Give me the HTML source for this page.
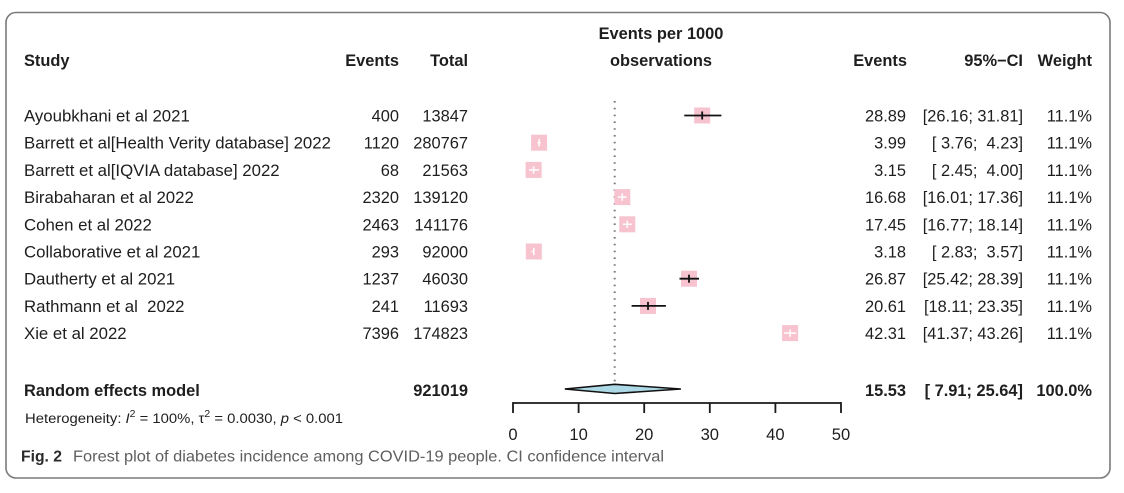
<!DOCTYPE html>
<html>
<head>
<meta charset="utf-8">
<style>
  html,body{margin:0;padding:0;background:#fff;}
  svg{display:block;}
  text{font-family:"Liberation Sans", Arial, sans-serif;fill:#1e1e1e;white-space:pre;}
  .b{font-weight:bold;}
  .r{font-size:16.4px;}
  .n{font-size:16.8px;}
</style>
</head>
<body>
<svg width="1124" height="493" viewBox="0 0 1124 493" xmlns="http://www.w3.org/2000/svg">
  <rect x="0" y="0" width="1124" height="493" fill="#fff"/>
  <!-- border -->
  <rect x="6" y="12.5" width="1104" height="465.5" rx="10" ry="10" fill="none" stroke="#7a7a7a" stroke-width="1.6"/>

  <!-- headers -->
  <text class="b r" x="661" y="39" text-anchor="middle">Events per 1000</text>
  <text class="b r" x="661" y="66" text-anchor="middle">observations</text>
  <text class="b r" x="24" y="66">Study</text>
  <text class="b r" x="399" y="66" text-anchor="end">Events</text>
  <text class="b r" x="468" y="66" text-anchor="end">Total</text>
  <text class="b r" x="907" y="66" text-anchor="end">Events</text>
  <text class="b r" x="1023" y="66" text-anchor="end">95%−CI</text>
  <text class="b r" x="1092" y="66" text-anchor="end">Weight</text>

  <!-- dotted reference line -->
  <line x1="614.7" y1="101" x2="614.7" y2="384" stroke="#777" stroke-width="2" stroke-dasharray="1.6 5.2"/>

  <!-- rows -->
  <g>
    <text class="n" x="24" y="121.5">Ayoubkhani et al 2021</text>
    <text class="r" x="399" y="121.5" text-anchor="end">400</text>
    <text class="r" x="468" y="121.5" text-anchor="end">13847</text>
    <text class="r" x="906" y="121.5" text-anchor="end">28.89</text>
    <text class="r" x="1023" y="121.5" text-anchor="end">[26.16; 31.81]</text>
    <text class="r" x="1092" y="121.5" text-anchor="end">11.1%</text>

    <text class="n" x="24" y="148.7">Barrett et al[Health Verity database] 2022</text>
    <text class="r" x="399" y="148.7" text-anchor="end">1120</text>
    <text class="r" x="468" y="148.7" text-anchor="end">280767</text>
    <text class="r" x="906" y="148.7" text-anchor="end">3.99</text>
    <text class="r" x="1023" y="148.7" text-anchor="end">[ 3.76;  4.23]</text>
    <text class="r" x="1092" y="148.7" text-anchor="end">11.1%</text>

    <text class="n" x="24" y="175.9">Barrett et al[IQVIA database] 2022</text>
    <text class="r" x="399" y="175.9" text-anchor="end">68</text>
    <text class="r" x="468" y="175.9" text-anchor="end">21563</text>
    <text class="r" x="906" y="175.9" text-anchor="end">3.15</text>
    <text class="r" x="1023" y="175.9" text-anchor="end">[ 2.45;  4.00]</text>
    <text class="r" x="1092" y="175.9" text-anchor="end">11.1%</text>

    <text class="n" x="24" y="203.1">Birabaharan et al 2022</text>
    <text class="r" x="399" y="203.1" text-anchor="end">2320</text>
    <text class="r" x="468" y="203.1" text-anchor="end">139120</text>
    <text class="r" x="906" y="203.1" text-anchor="end">16.68</text>
    <text class="r" x="1023" y="203.1" text-anchor="end">[16.01; 17.36]</text>
    <text class="r" x="1092" y="203.1" text-anchor="end">11.1%</text>

    <text class="n" x="24" y="230.3">Cohen et al 2022</text>
    <text class="r" x="399" y="230.3" text-anchor="end">2463</text>
    <text class="r" x="468" y="230.3" text-anchor="end">141176</text>
    <text class="r" x="906" y="230.3" text-anchor="end">17.45</text>
    <text class="r" x="1023" y="230.3" text-anchor="end">[16.77; 18.14]</text>
    <text class="r" x="1092" y="230.3" text-anchor="end">11.1%</text>

    <text class="n" x="24" y="257.5">Collaborative et al 2021</text>
    <text class="r" x="399" y="257.5" text-anchor="end">293</text>
    <text class="r" x="468" y="257.5" text-anchor="end">92000</text>
    <text class="r" x="906" y="257.5" text-anchor="end">3.18</text>
    <text class="r" x="1023" y="257.5" text-anchor="end">[ 2.83;  3.57]</text>
    <text class="r" x="1092" y="257.5" text-anchor="end">11.1%</text>

    <text class="n" x="24" y="284.7">Dautherty et al 2021</text>
    <text class="r" x="399" y="284.7" text-anchor="end">1237</text>
    <text class="r" x="468" y="284.7" text-anchor="end">46030</text>
    <text class="r" x="906" y="284.7" text-anchor="end">26.87</text>
    <text class="r" x="1023" y="284.7" text-anchor="end">[25.42; 28.39]</text>
    <text class="r" x="1092" y="284.7" text-anchor="end">11.1%</text>

    <text class="n" x="24" y="311.9">Rathmann et al  2022</text>
    <text class="r" x="399" y="311.9" text-anchor="end">241</text>
    <text class="r" x="468" y="311.9" text-anchor="end">11693</text>
    <text class="r" x="906" y="311.9" text-anchor="end">20.61</text>
    <text class="r" x="1023" y="311.9" text-anchor="end">[18.11; 23.35]</text>
    <text class="r" x="1092" y="311.9" text-anchor="end">11.1%</text>

    <text class="n" x="24" y="339.1">Xie et al 2022</text>
    <text class="r" x="399" y="339.1" text-anchor="end">7396</text>
    <text class="r" x="468" y="339.1" text-anchor="end">174823</text>
    <text class="r" x="906" y="339.1" text-anchor="end">42.31</text>
    <text class="r" x="1023" y="339.1" text-anchor="end">[41.37; 43.26]</text>
    <text class="r" x="1092" y="339.1" text-anchor="end">11.1%</text>
  </g>

  <!-- squares (size 16) -->
  <g fill="#f6c3cf">
    <rect x="694.2" y="107.5" width="16" height="16"/>
    <rect x="531.1" y="134.7" width="16" height="16"/>
    <rect x="525.6" y="161.9" width="16" height="16"/>
    <rect x="614.3" y="189.1" width="16" height="16"/>
    <rect x="619.3" y="216.3" width="16" height="16"/>
    <rect x="525.8" y="243.5" width="16" height="16"/>
    <rect x="681.0" y="270.7" width="16" height="16"/>
    <rect x="640.0" y="297.9" width="16" height="16"/>
    <rect x="782.1" y="325.1" width="16" height="16"/>
  </g>

  <!-- CI lines: black (extending outside square) -->
  <g stroke="#111" stroke-width="1.8">
    <line x1="684.3" y1="115.5" x2="721.4" y2="115.5"/>
    <line x1="702.2" y1="111.5" x2="702.2" y2="119.5"/>
    <line x1="679.5" y1="278.7" x2="699.0" y2="278.7"/>
    <line x1="689.0" y1="274.7" x2="689.0" y2="282.7"/>
    <line x1="631.6" y1="305.9" x2="665.9" y2="305.9"/>
    <line x1="648.0" y1="301.9" x2="648.0" y2="309.9"/>
  </g>
  <!-- CI lines: white (inside square) -->
  <g stroke="#fff" stroke-width="1.6" opacity="0.95">
    <line x1="537.6" y1="142.7" x2="540.7" y2="142.7"/>
    <line x1="539.1" y1="139" x2="539.1" y2="146.4"/>
    <line x1="529.0" y1="169.9" x2="539.2" y2="169.9"/>
    <line x1="533.6" y1="166.2" x2="533.6" y2="173.6"/>
    <line x1="617.9" y1="197.1" x2="626.7" y2="197.1"/>
    <line x1="622.3" y1="193.4" x2="622.3" y2="200.8"/>
    <line x1="622.8" y1="224.3" x2="631.8" y2="224.3"/>
    <line x1="627.3" y1="220.6" x2="627.3" y2="228"/>
    <line x1="531.5" y1="251.5" x2="534.1" y2="251.5"/>
    <line x1="533.8" y1="247.8" x2="533.8" y2="255.2"/>
    <line x1="784.0" y1="333.1" x2="796.3" y2="333.1"/>
    <line x1="790.1" y1="329.4" x2="790.1" y2="336.8"/>
  </g>

  <!-- random effects row -->
  <text class="b r" x="24" y="396">Random effects model</text>
  <text class="b r" x="468" y="396" text-anchor="end">921019</text>
  <text class="b r" x="906" y="396" text-anchor="end">15.53</text>
  <text class="b r" x="1023" y="396" text-anchor="end">[ 7.91; 25.64]</text>
  <text class="b r" x="1092" y="396" text-anchor="end">100.0%</text>
  <polygon points="564.8,389 614.7,384.3 680.9,389 614.7,393.5" fill="#add8e6" stroke="#111" stroke-width="1.6" stroke-linejoin="miter"/>

  <!-- heterogeneity -->
  <text x="25" y="423" style="font-size:14.2px;" textLength="318" lengthAdjust="spacingAndGlyphs">Heterogeneity: <tspan font-style="italic">I</tspan><tspan dy="-6" font-size="10">2</tspan><tspan dy="6"> = 100%, τ</tspan><tspan dy="-6" font-size="10">2</tspan><tspan dy="6"> = 0.0030, </tspan><tspan font-style="italic">p</tspan> &lt; 0.001</text>

  <!-- axis -->
  <g stroke="#1a1a1a" stroke-width="1.8" fill="none">
    <line x1="513" y1="403" x2="841" y2="403"/>
    <line x1="513" y1="402.1" x2="513" y2="413"/>
    <line x1="578.6" y1="403" x2="578.6" y2="413"/>
    <line x1="644.2" y1="403" x2="644.2" y2="413"/>
    <line x1="709.8" y1="403" x2="709.8" y2="413"/>
    <line x1="775.4" y1="403" x2="775.4" y2="413"/>
    <line x1="841" y1="402.1" x2="841" y2="413"/>
  </g>
  <g style="font-size:16.6px;" text-anchor="middle">
    <text x="513" y="440">0</text>
    <text x="578.6" y="440">10</text>
    <text x="644.2" y="440">20</text>
    <text x="709.8" y="440">30</text>
    <text x="775.4" y="440">40</text>
    <text x="841" y="440">50</text>
  </g>

  <!-- caption -->
  <text x="21" y="461.5" style="font-size:15.6px;font-weight:bold;fill:#2a2a2a;" textLength="41" lengthAdjust="spacingAndGlyphs">Fig. 2</text>
  <text x="73" y="461.5" style="font-size:15.8px;fill:#5e5e5e;" textLength="591" lengthAdjust="spacingAndGlyphs">Forest plot of diabetes incidence among COVID-19 people. CI confidence interval</text>
</svg>
</body>
</html>
